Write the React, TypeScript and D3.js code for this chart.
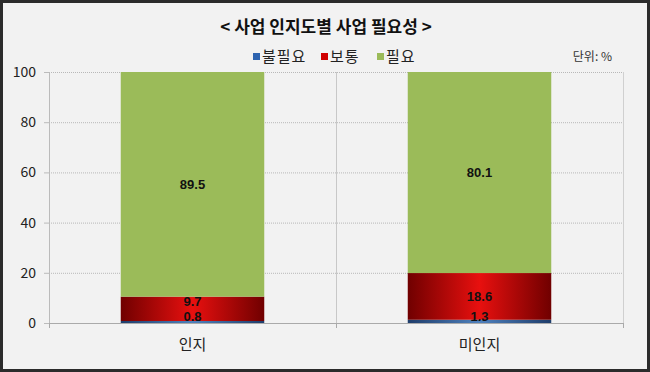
import * as d3 from 'd3';
import { useEffect, useRef } from 'react';

const categories = ['인지', '미인지'];
const seriesNames = ['불필요', '보통', '필요'];
const notNeeded = [0.8, 1.3];
const normal = [9.7, 18.6];
const needed = [89.5, 80.1];
const yTicks = [0, 20, 40, 60, 80, 100];

const FONT = "'Noto Sans CJK KR', 'Noto Sans', sans-serif";
const NUM_FONT = "'Liberation Sans', Arial, sans-serif";

export default function App() {
    const ref = useRef<SVGSVGElement>(null);

    useEffect(() => {
        const W = 650, H = 372;
        const margin = { top: 72, right: 27, bottom: 49, left: 49 };
        const width = W - margin.left - margin.right;
        const height = H - margin.top - margin.bottom;

        const svg = d3.select(ref.current);
        svg.selectAll('*').remove();

        const defs = svg.append('defs');
        const grad = (id: string, edge: string, mid: string) => {
            const g = defs.append('linearGradient').attr('id', id)
                .attr('x1', '0%').attr('x2', '100%').attr('y1', '0%').attr('y2', '0%');
            g.append('stop').attr('offset', '0%').attr('stop-color', edge);
            g.append('stop').attr('offset', '50%').attr('stop-color', mid);
            g.append('stop').attr('offset', '100%').attr('stop-color', edge);
        };
        grad('gBlue', '#1f3d6b', '#4f81bd');
        grad('gRed', '#700000', '#e8100f');

        svg.append('rect').attr('x', 1.5).attr('y', 1.5)
            .attr('width', W - 3).attr('height', H - 3)
            .attr('fill', '#f2f2f2').attr('stroke', '#2b2b2b').attr('stroke-width', 3);

        svg.append('text').attr('x', 326).attr('y', 33)
            .attr('text-anchor', 'middle').attr('font-family', FONT)
            .attr('font-size', 17).attr('font-weight', 'bold').attr('fill', '#111')
            .text('< 사업 인지도별 사업 필요성 >');

        // legend
        const legendColors = ['#2e64b0', '#d00000', '#9bbb59'];
        const legendX = [253, 321, 377];
        seriesNames.forEach((name, i) => {
            svg.append('rect').attr('x', legendX[i]).attr('y', 53)
                .attr('width', 7).attr('height', 7).attr('fill', legendColors[i]);
            svg.append('text').attr('x', legendX[i] + 9).attr('y', 61.5)
                .attr('font-family', FONT).attr('font-size', 15).attr('fill', '#222')
                .attr('letter-spacing', 1)
                .text(name);
        });
        svg.append('text').attr('x', 612).attr('y', 60.5).attr('text-anchor', 'end')
            .attr('font-family', FONT).attr('font-size', 12).attr('fill', '#333')
            .text('단위: %');

        const g = svg.append('g')
            .attr('transform', 'translate(' + margin.left + ',' + margin.top + ')');

        const x = d3.scaleBand().domain(categories).range([0, width]).paddingInner(0).paddingOuter(0);
        const y = d3.scaleLinear().domain([0, 100]).range([height, 0]);
        const barW = x.bandwidth() * 0.5;

        // grid
        g.append('g').selectAll('line').data(yTicks.filter(d => d > 0)).enter().append('line')
            .attr('x1', 0).attr('x2', width)
            .attr('y1', d => y(d) + 0.5).attr('y2', d => y(d) + 0.5)
            .attr('stroke', '#b8b8b8').attr('stroke-dasharray', '1,1');
        g.append('line').attr('x1', x('미인지')! + 0.5).attr('x2', x('미인지')! + 0.5)
            .attr('y1', 0).attr('y2', height).attr('stroke', '#c8c8c8');
        g.append('line').attr('x1', width + 0.5).attr('x2', width + 0.5)
            .attr('y1', 0).attr('y2', height).attr('stroke', '#d0d0d0');

        // axes
        const yAxis = g.append('g').call(d3.axisLeft(y).tickValues(yTicks).tickSize(5).tickPadding(8));
        yAxis.select('.domain').attr('stroke', '#bbb');
        yAxis.selectAll('line').attr('stroke', '#bbb');
        yAxis.selectAll('text').attr('font-family', FONT).attr('font-size', 14).attr('fill', '#222');

        const xAxis = g.append('g').attr('transform', 'translate(0,' + height + ')')
            .call(d3.axisBottom(x).tickSize(0).tickPadding(16));
        xAxis.select('.domain').remove();
        xAxis.selectAll('text').attr('font-family', FONT).attr('font-size', 15).attr('fill', '#222');
        g.append('line').attr('x1', 0).attr('x2', width).attr('y1', height + 0.5).attr('y2', height + 0.5)
            .attr('stroke', '#aaa');
        [0, x('미인지')!, width].forEach(t => {
            g.append('line').attr('x1', t + 0.5).attr('x2', t + 0.5)
                .attr('y1', height).attr('y2', height + 5).attr('stroke', '#aaa');
        });

        // stacked bars
        const rows = categories.map((c, i) => ({ c, a: notNeeded[i], b: normal[i], n: needed[i] }));
        const stack = d3.stack<any>().keys(['a', 'b', 'n'])(rows);
        const fills = ['url(#gBlue)', 'url(#gRed)', '#9bbb59'];

        stack.forEach((layer, li) => {
            g.append('g').selectAll('rect').data(layer).enter().append('rect')
                .attr('x', d => x(d.data.c)! + (x.bandwidth() - barW) / 2)
                .attr('y', d => y(Math.min(d[1], 100)))
                .attr('width', barW)
                .attr('height', d => y(d[0]) - y(Math.min(d[1], 100)))
                .attr('fill', fills[li]);
        });

        // labels
        rows.forEach(r => {
            const cx = x(r.c)! + x.bandwidth() / 2;
            const blueY = y(0) - 7;
            const redY = Math.min(y(r.a + r.b / 2), blueY - 15);
            const greenY = y(r.a + r.b + r.n / 2);
            [[r.a, blueY], [r.b, redY], [r.n, greenY]].forEach(([v, ly]) => {
                g.append('text').attr('x', cx).attr('y', ly).attr('dy', '0.35em')
                    .attr('text-anchor', 'middle').attr('font-family', NUM_FONT)
                    .attr('font-size', 13).attr('font-weight', 'bold').attr('fill', '#111')
                    .text(v.toFixed(1));
            });
        });
    }, []);

    return (
        <div style={{ position: 'fixed', left: 0, top: 0 }}>
            <svg ref={ref} width={650} height={372} style={{ display: 'block' }}></svg>
        </div>
    );
}
